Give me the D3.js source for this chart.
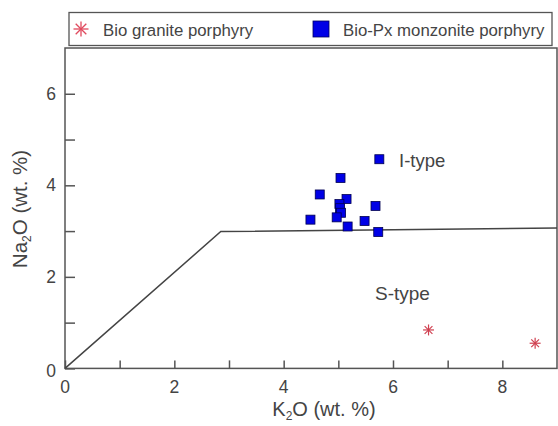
<!DOCTYPE html>
<html><head><meta charset="utf-8">
<script src="https://cdn.jsdelivr.net/npm/d3@7"></script>
<style>body{margin:0;background:#fff}svg{display:block;font-family:"Liberation Sans",Arial,sans-serif}</style>
</head><body><svg id="c" width="558" height="426"></svg>
<script>
const monzoniteK = [5.75,5.04,4.66,5.15,5.02,5.03,5.05,5.68,4.49,4.97,5.48,5.17,5.73];
const monzoniteNa = [4.57,4.16,3.80,3.70,3.59,3.50,3.40,3.55,3.25,3.30,3.22,3.10,2.98];
const graniteK = [6.65,8.6];
const graniteNa = [0.84,0.55];
const boundaryK = [0,2.85,9];
const boundaryNa = [0,2.99,3.07];
const xTicks = [0,1,2,3,4,5,6,7,8];
const yTicks = [0,1,2,3,4,5,6];
const xLabels = [0,2,4,6,8];
const yLabels = [0,2,4,6];

const svg = d3.select("#c");
const L=65,R=557,T=48,B=368.4;
const x = d3.scaleLinear().domain([0,9]).range([L,R]);
const y = d3.scaleLinear().domain([0,7]).range([B,T]);
const axisCol="#555", textCol="#444";

// legend
svg.append("rect").attr("x",69).attr("y",12.5).attr("width",483).attr("height",33)
  .attr("fill","#fff").attr("stroke",axisCol).attr("stroke-width",1.3);
function star(g,cx,cy,r,col,w){
  for(let i=0;i<4;i++){const a=i*Math.PI/4;
    g.append("line").attr("x1",cx-r*Math.cos(a)).attr("y1",cy-r*Math.sin(a))
     .attr("x2",cx+r*Math.cos(a)).attr("y2",cy+r*Math.sin(a)).attr("stroke",col).attr("stroke-width",w);}
}
star(svg,81,29,7.5,"#e04a5e",1.3);
svg.append("text").attr("x",103).attr("y",35.5).attr("font-size",16.8).attr("fill",textCol).text("Bio granite porphyry");
svg.append("rect").attr("x",313).attr("y",21).attr("width",16).attr("height",16).attr("fill","#0000e6").attr("stroke","#000060").attr("stroke-width",0.8);
svg.append("text").attr("x",343).attr("y",35.5).attr("font-size",16.8).attr("fill",textCol).text("Bio-Px monzonite porphyry");

// frame
svg.append("rect").attr("x",L).attr("y",T).attr("width",R-L).attr("height",B-T)
  .attr("fill","none").attr("stroke",axisCol).attr("stroke-width",1.5);

// axes
const xAxis = d3.axisBottom(x).tickValues(xTicks).tickSizeInner(-8).tickSizeOuter(0).tickFormat("");
const gx = svg.append("g").attr("transform",`translate(0,${B})`).call(xAxis);
gx.select(".domain").remove();
gx.selectAll("line").attr("stroke",axisCol).attr("stroke-width",1.5);
const yAxis = d3.axisLeft(y).tickValues(yTicks).tickSizeInner(-10).tickSizeOuter(0).tickFormat("");
const gy = svg.append("g").attr("transform",`translate(${L},0)`).call(yAxis);
gy.select(".domain").remove();
gy.selectAll("line").attr("stroke",axisCol).attr("stroke-width",1.5);

svg.selectAll(".xl").data(xLabels).enter().append("text").attr("class","xl")
  .attr("x",d=>x(d)).attr("y",B+25).attr("text-anchor","middle").attr("font-size",17.5).attr("fill",textCol).text(d=>d);
svg.selectAll(".yl").data(yLabels).enter().append("text").attr("class","yl")
  .attr("x",L-9).attr("y",d=>y(d)+6+(d===0?3:0)).attr("text-anchor","end").attr("font-size",17.5).attr("fill",textCol).text(d=>d);

// axis titles
const xt = svg.append("text").attr("x",324).attr("y",416).attr("text-anchor","middle").attr("font-size",20).attr("fill",textCol);
xt.append("tspan").text("K");
xt.append("tspan").attr("font-size",12).attr("dy",4).text("2");
xt.append("tspan").attr("dy",-4).text("O (wt. %)");
const yt = svg.append("text").attr("transform",`translate(27,209) rotate(-90)`).attr("text-anchor","middle").attr("font-size",20.5).attr("fill",textCol);
yt.append("tspan").text("Na");
yt.append("tspan").attr("font-size",12).attr("dy",4).text("2");
yt.append("tspan").attr("dy",-4).text("O (wt. %)");

// boundary line
const line = d3.line().x((d,i)=>x(boundaryK[i])).y((d,i)=>y(boundaryNa[i]));
svg.append("path").attr("d",line(boundaryK)).attr("fill","none").attr("stroke","#444").attr("stroke-width",1.5);

// labels
svg.append("text").attr("x",399).attr("y",167).attr("font-size",18.5).attr("fill",textCol).text("I-type");
svg.append("text").attr("x",375).attr("y",300).attr("font-size",19).attr("fill",textCol).text("S-type");

// points
const s=9;
svg.selectAll(".sq").data(monzoniteK).enter().append("rect").attr("class","sq")
  .attr("x",(d,i)=>x(d)-s/2).attr("y",(d,i)=>y(monzoniteNa[i])-s/2).attr("width",s).attr("height",s)
  .attr("fill","#0000e6").attr("stroke","#000050").attr("stroke-width",0.8);
graniteK.forEach((k,i)=>star(svg,x(k),y(graniteNa[i]),5.5,"#d04050",1.2));
</script></body></html>
